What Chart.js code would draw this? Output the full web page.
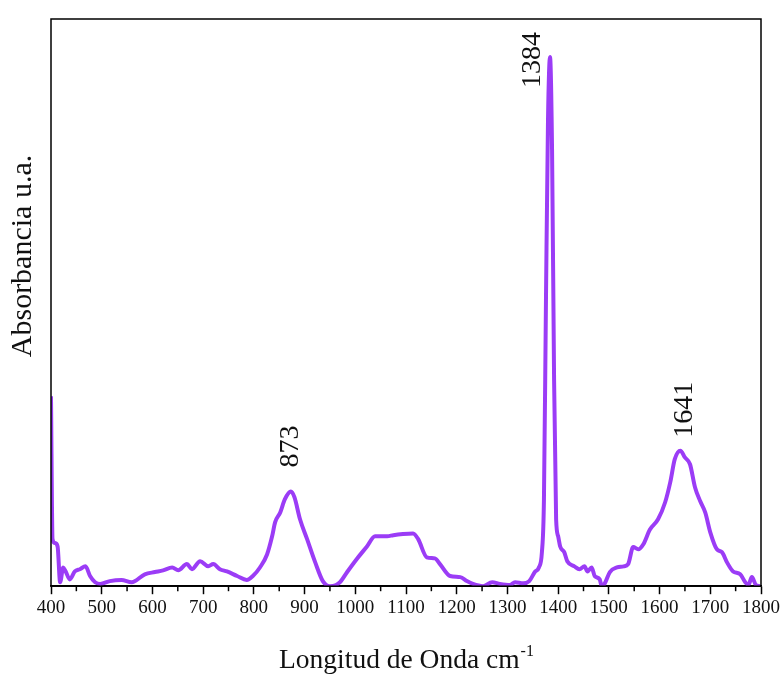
<!DOCTYPE html>
<html>
<head>
<meta charset="utf-8">
<script src="https://cdn.jsdelivr.net/npm/chart.js@4/dist/chart.umd.min.js"></script>
<style>
    html, body { margin: 0; padding: 0; background: #fff; }
    #wrap { width: 782px; height: 675px; }
</style>
</head>
<body>
<div id="wrap"><canvas id="spectrum"></canvas></div>
<script>
// 波数 (cm-1)
const wavenumber = [
    400, 403, 408, 413, 418, 424, 429, 437, 447, 457, 468, 477, 487, 497, 516, 539, 559,
    585, 605, 621, 639, 651, 668, 678, 694, 710, 720, 733, 747, 767, 786, 798,
    812, 826, 836, 842, 852, 861, 873, 880, 891, 905, 921, 936, 950, 962, 970,
    984, 1003, 1023, 1039, 1063, 1075, 1094, 1114, 1124, 1141, 1157, 1167, 1187,
    1207, 1220, 1232, 1252, 1270, 1285, 1305, 1315, 1331, 1343, 1354, 1362, 1368,
    1372, 1376, 1380, 1384, 1388, 1392, 1396, 1400, 1404, 1412, 1418, 1432, 1442,
    1452, 1458, 1466, 1472, 1482, 1486, 1492, 1502, 1516, 1529, 1538, 1548, 1558,
    1568, 1581, 1597, 1611, 1621, 1630, 1641, 1650, 1660, 1670, 1680, 1690, 1700,
    1713, 1723, 1733, 1745, 1759, 1769, 1775, 1782, 1790, 1798
];

// 吸光度 (u.a.)
const absorbance = [
    0.335, 0.083, 0.076, 0.070, 0.007, 0.033, 0.026, 0.012, 0.026, 0.030, 0.035, 0.018, 0.007, 0.004, 0.009, 0.011, 0.007,
    0.021, 0.025, 0.028, 0.033, 0.028, 0.039, 0.030, 0.044, 0.035, 0.039, 0.030, 0.026, 0.018, 0.011, 0.018,
    0.033, 0.056, 0.088, 0.113, 0.130, 0.153, 0.167, 0.157, 0.118, 0.083, 0.042, 0.009, 0.000, 0.002, 0.007,
    0.025, 0.048, 0.070, 0.088, 0.088, 0.090, 0.092, 0.093, 0.083, 0.051, 0.049, 0.039, 0.018,
    0.016, 0.009, 0.004, 0.000, 0.007, 0.004, 0.002, 0.007, 0.005, 0.009, 0.025, 0.033, 0.060,
    0.153, 0.505, 0.822, 0.933, 0.769, 0.364, 0.118, 0.088, 0.070, 0.060, 0.044, 0.035, 0.030,
    0.035, 0.026, 0.033, 0.018, 0.012, 0.000, 0.005, 0.025, 0.033, 0.035, 0.039, 0.069, 0.065,
    0.074, 0.100, 0.118, 0.148, 0.183, 0.224, 0.239, 0.227, 0.215, 0.174, 0.150, 0.130, 0.095,
    0.065, 0.060, 0.042, 0.026, 0.021, 0.007, 0.002, 0.016, 0.002, 0.000
];

// 标注的峰位
const peakLabels = [873, 1384, 1641];

const LINE_COLOR = '#9b3cf6';
const SERIF = '"Liberation Serif", "DejaVu Serif", serif';

// 峰位标注的偏移 (dx, 与峰顶的间距)
const peakStyle = {
    873: { dx: 0, gap: 24 },
    1384: { dx: -17, gap: -31 },
    1641: { dx: 4, gap: 13 }
};

// 外框、次刻度、坐标轴标题和峰标注
const decorPlugin = {
    id: 'decor',
    afterDraw(chart) {
        const ctx = chart.ctx;
        const area = chart.chartArea;
        const xs = chart.scales.x;
        const ys = chart.scales.y;

        ctx.save();
        // 外框
        ctx.strokeStyle = '#000';
        ctx.lineWidth = 1.5;
        ctx.strokeRect(area.left, area.top, area.right - area.left, area.bottom - area.top);

        // 次刻度 (每 50)
        for (let v = 450; v < 1800; v += 100) {
            const px = xs.getPixelForValue(v);
            ctx.beginPath();
            ctx.moveTo(px, area.bottom);
            ctx.lineTo(px, area.bottom + 5);
            ctx.stroke();
        }

        // y 轴标题
        ctx.fillStyle = '#111';
        ctx.font = '30px ' + SERIF;
        ctx.textAlign = 'center';
        ctx.textBaseline = 'middle';
        ctx.save();
        ctx.translate(23, 256);
        ctx.rotate(-Math.PI / 2);
        ctx.fillText('Absorbancia u.a.', 0, 0);
        ctx.restore();

        // x 轴标题, cm-1 上标
        const main = 'Longitud de Onda cm';
        const sup = '-1';
        ctx.font = '27.5px ' + SERIF;
        const wMain = ctx.measureText(main).width;
        ctx.font = '16px ' + SERIF;
        const wSup = ctx.measureText(sup).width;
        const cx = (area.left + area.right) / 2;
        const startX = cx - (wMain + wSup) / 2;
        ctx.textAlign = 'left';
        ctx.textBaseline = 'alphabetic';
        ctx.font = '27.5px ' + SERIF;
        ctx.fillText(main, startX, 668);
        ctx.font = '16px ' + SERIF;
        ctx.fillText(sup, startX + wMain + 1, 656);

        // 峰位标注
        ctx.font = '28px ' + SERIF;
        ctx.textAlign = 'left';
        ctx.textBaseline = 'middle';
        peakLabels.forEach(p => {
            const i = wavenumber.indexOf(p);
            const px = xs.getPixelForValue(p) + peakStyle[p].dx;
            const py = ys.getPixelForValue(absorbance[i]) - peakStyle[p].gap;
            ctx.save();
            ctx.translate(px, py);
            ctx.rotate(-Math.PI / 2);
            ctx.fillText(String(p), 0, 0);
            ctx.restore();
        });
        ctx.restore();
    }
};

const ctx = document.getElementById('spectrum').getContext('2d');
new Chart(ctx, {
    type: 'line',
    data: {
        datasets: [{
            data: wavenumber.map((w, i) => ({ x: w, y: absorbance[i] })),
            borderColor: LINE_COLOR,
            borderWidth: 4,
            pointRadius: 0,
            cubicInterpolationMode: 'monotone',
            fill: false
        }]
    },
    options: {
        responsive: true,
        maintainAspectRatio: false,
        animation: false,
        layout: {
            padding: { left: 51, right: 20, top: 19, bottom: 54 }
        },
        plugins: {
            legend: { display: false },
            tooltip: { enabled: false }
        },
        scales: {
            x: {
                type: 'linear',
                min: 400,
                max: 1800,
                border: { color: '#000', width: 1.5 },
                grid: {
                    drawOnChartArea: false,
                    drawTicks: true,
                    tickLength: 8,
                    tickWidth: 1.5,
                    tickColor: '#000'
                },
                ticks: {
                    stepSize: 100,
                    padding: 2,
                    color: '#111',
                    font: { family: SERIF, size: 19 },
                    maxRotation: 0,
                    autoSkip: false,
                    callback: v => String(v)
                }
            },
            y: {
                display: false,
                min: 0,
                max: 1
            }
        }
    },
    plugins: [decorPlugin]
});
</script>
</body>
</html>
